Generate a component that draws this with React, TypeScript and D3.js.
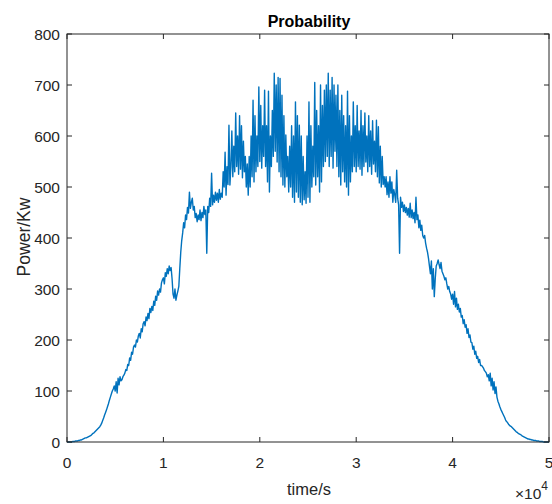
import React from 'react';
import * as d3 from 'd3';

const timeStep = 100; // seconds between samples
const power: number[] = [
  0, 0, 0, 0, 0, 0, 1, 1, 1, 2,
  2, 2, 3, 3, 4, 4, 5, 6, 7, 8,
  8, 9, 10, 11, 12, 13, 15, 17, 18, 20,
  22, 24, 26, 28, 30, 33, 37, 42, 47, 53,
  58, 63, 69, 75, 82, 88, 94, 100, 104, 110,
  100, 118, 96, 125, 112, 128, 120, 122, 128, 131,
  135, 142, 140, 152, 150, 165, 160, 176, 172, 186,
  190, 186, 200, 196, 208, 213, 204, 222, 216, 232,
  236, 228, 245, 238, 252, 242, 262, 254, 266, 258,
  276, 268, 286, 278, 296, 288, 300, 294, 312, 318,
  322, 310, 332, 325, 340, 330, 345, 336, 342, 320,
  290, 282, 300, 278, 288, 296, 305, 340, 372, 395,
  410, 430, 420, 445, 436, 460, 449, 490, 458, 470,
  478, 455, 462, 440, 448, 432, 445, 436, 455, 434,
  450, 440, 462, 446, 455, 370, 462, 450, 478, 462,
  527, 465, 484, 470, 490, 474, 488, 470, 495, 476,
  488, 480, 530, 500, 568, 484, 540, 505, 621, 504,
  540, 610, 520, 580, 530, 645, 540, 600, 525, 640,
  535, 620, 518, 590, 530, 560, 500, 545, 484, 560,
  500, 600, 520, 670, 510, 640, 530, 600, 540, 696,
  550, 660, 537, 620, 560, 690, 540, 620, 510, 688,
  490, 600, 540, 650, 560, 723, 570, 700, 549, 715,
  530, 713, 520, 680, 504, 640, 500, 602, 520, 560,
  490, 580, 500, 620, 480, 600, 470, 667, 490, 640,
  480, 621, 470, 600, 465, 560, 475, 530, 468, 600,
  480, 667, 470, 620, 500, 580, 520, 705, 504, 650,
  520, 620, 490, 700, 510, 660, 540, 690, 550, 700,
  560, 723, 540, 690, 560, 715, 537, 700, 570, 680,
  540, 700, 520, 650, 504, 680, 530, 640, 510, 620,
  500, 688, 484, 640, 510, 600, 530, 667, 540, 620,
  530, 660, 540, 610, 535, 650, 523, 620, 540, 645,
  549, 600, 530, 640, 540, 610, 525, 630, 545, 590,
  530, 631, 520, 618, 508, 580, 500, 560, 505, 520,
  500, 520, 485, 510, 480, 520, 488, 510, 470, 495,
  485, 470, 533, 478, 465, 370, 480, 460, 470, 452,
  465, 450, 460, 445, 458, 441, 468, 440, 455, 438,
  450, 430, 480, 436, 445, 420, 435, 415, 425, 405,
  400, 405, 390, 380, 372, 360, 345, 330, 355, 300,
  340, 285, 320, 345, 350, 357, 348, 340, 352, 335,
  330, 325, 318, 322, 310, 300, 305, 295, 290, 280,
  290, 270, 295, 265, 282, 260, 270, 255, 262, 245,
  248, 232, 240, 225, 230, 213, 222, 205, 210, 196,
  195, 182, 188, 172, 178, 164, 168, 156, 162, 150,
  150, 148, 145, 140, 138, 135, 128, 132, 120, 135,
  110, 125, 102, 118, 95, 108, 88, 80, 75, 69,
  64, 60, 56, 52, 48, 43, 40, 38, 35, 33,
  31, 30, 28, 26, 24, 22, 20, 19, 17, 16,
  15, 14, 12, 11, 10, 9, 8, 7, 6, 6,
  5, 5, 4, 4, 3, 3, 3, 2, 2, 2,
  1, 1, 1, 1, 0, 0, 0, 0, 0, 0,
  0,
];

const xTicks = [0, 1, 2, 3, 4, 5]; // ×10^4 s
const yTicks = [0, 100, 200, 300, 400, 500, 600, 700, 800];
const titleText = 'Probability';
const xLabelText = 'time/s';
const yLabelText = 'Power/Kw';

const FONT = '"Liberation Sans", Arial, Helvetica, sans-serif';
const AXIS = '#262626';
const LINE = '#0072BD';

export default function App() {
  const W = 552;
  const H = 504;
  const L = 67, R = 549, T = 34, B = 442;
  const x = d3.scaleLinear().domain([0, 50000]).range([L, R]);
  const y = d3.scaleLinear().domain([0, 800]).range([B, T]);
  const line = d3
    .line<number>()
    .x((_, i) => x(i * timeStep))
    .y((d) => y(d));
  const tick = 5;

  return (
    <svg
      width={W}
      height={H}
      style={{ position: 'absolute', left: 0, top: 0, background: '#fff' }}
      fontFamily={FONT}
    >
      <rect x={0} y={0} width={W} height={H} fill="#fff" />
      <path d={line(power) || ''} fill="none" stroke={LINE} strokeWidth={1.4} strokeLinejoin="round" />
      {/* box */}
      <rect x={L} y={T} width={R - L} height={B - T} fill="none" stroke={AXIS} strokeWidth={1} />
      {xTicks.map((v) => {
        const px = x(v * 10000);
        return (
          <g key={'x' + v}>
            <line x1={px} x2={px} y1={B} y2={B - tick} stroke={AXIS} />
            <line x1={px} x2={px} y1={T} y2={T + tick} stroke={AXIS} />
            <text x={px} y={468} textAnchor="middle" fontSize={15.5} fill={AXIS}>
              {v}
            </text>
          </g>
        );
      })}
      {yTicks.map((v) => {
        const py = y(v);
        return (
          <g key={'y' + v}>
            <line x1={L} x2={L + tick} y1={py} y2={py} stroke={AXIS} />
            <line x1={R} x2={R - tick} y1={py} y2={py} stroke={AXIS} />
            <text x={60} y={py + 6} textAnchor="end" fontSize={15.5} fill={AXIS}>
              {v}
            </text>
          </g>
        );
      })}
      <text x={309} y={27} textAnchor="middle" fontSize={16} fontWeight="bold" fill="#000">
        {titleText}
      </text>
      <text x={309} y={495} textAnchor="middle" fontSize={16.5} fill={AXIS}>
        {xLabelText}
      </text>
      <text transform="translate(30,237) rotate(-90)" textAnchor="middle" fontSize={17.5} fill={AXIS}>
        {yLabelText}
      </text>
      <text x={548} y={499} textAnchor="end" fontSize={15.5} fill={AXIS}>
        <tspan>×10</tspan>
        <tspan dy={-9} fontSize={12}>4</tspan>
      </text>
    </svg>
  );
}
